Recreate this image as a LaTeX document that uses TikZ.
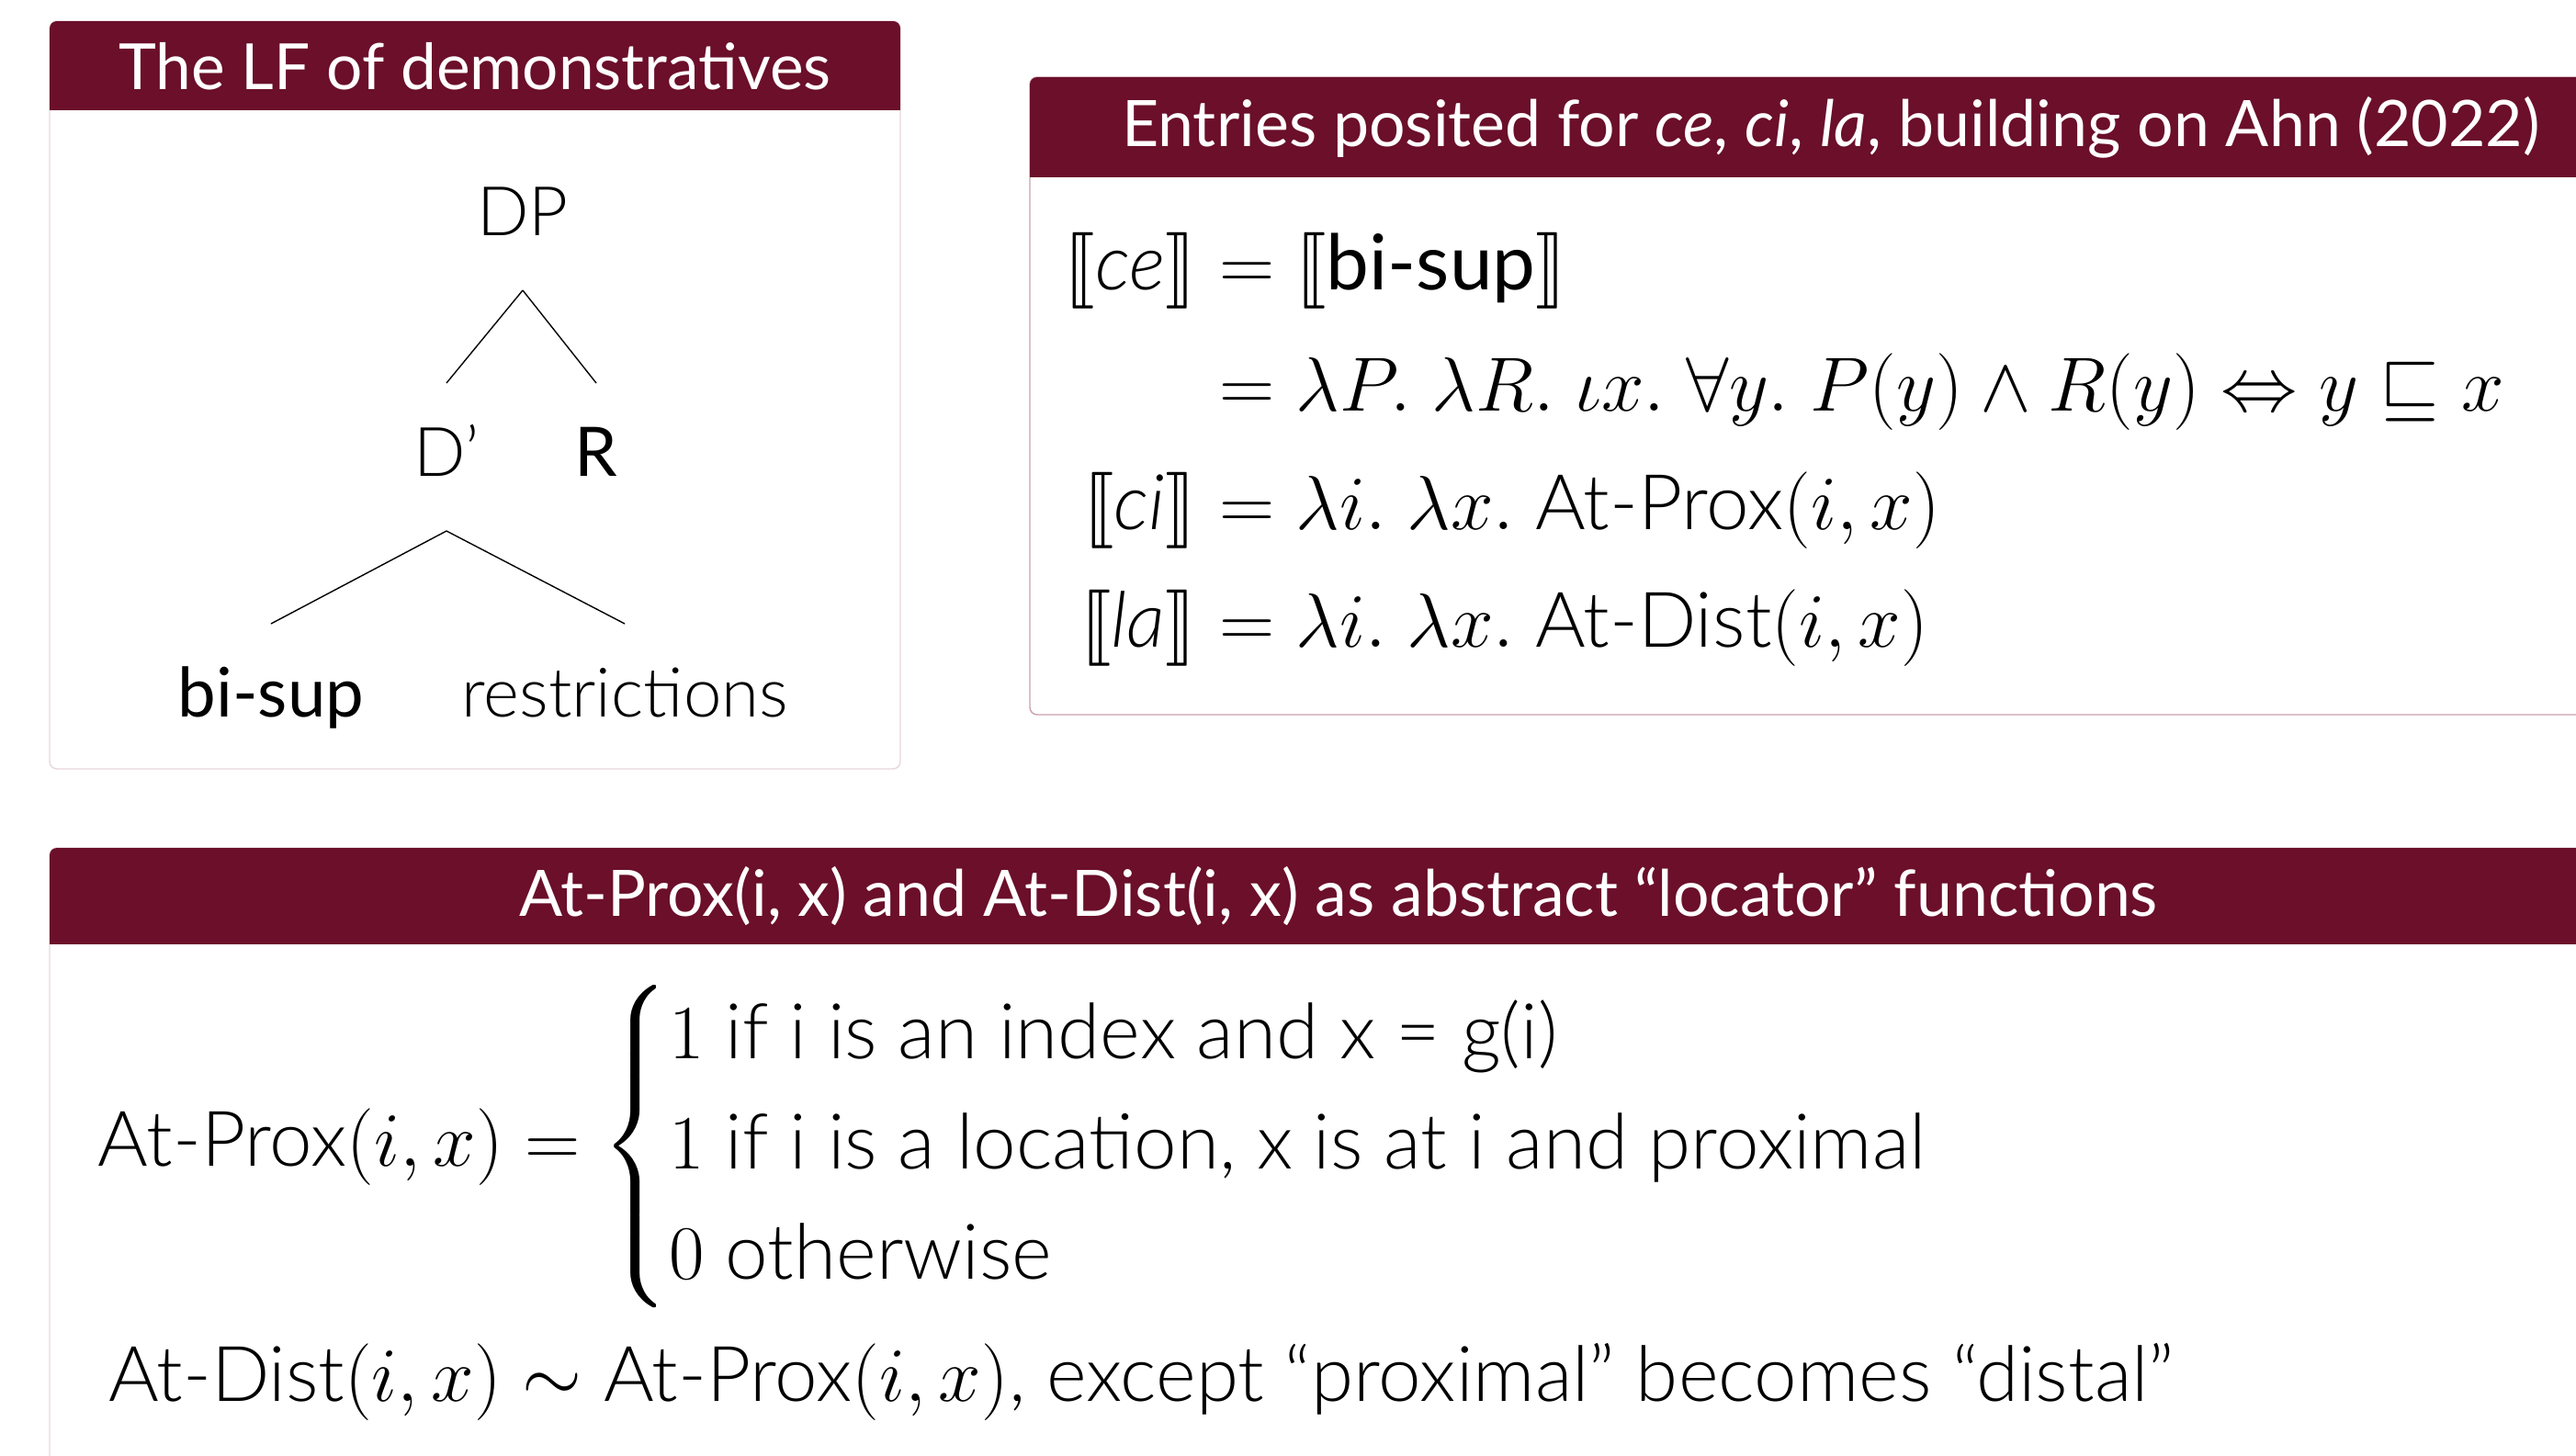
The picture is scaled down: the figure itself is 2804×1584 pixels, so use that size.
\documentclass[tikz,border=0pt]{standalone}
\usepackage{fix-cm}
\usepackage{amsmath,amssymb,stmaryrd}
\usepackage{fontspec}
\setmainfont{Lato Light}[ItalicFont={Lato Light Italic}, BoldFont={Lato}, BoldItalicFont={Lato Italic}]
\usetikzlibrary{calc}
\definecolor{maroon}{RGB}{107,15,42}
\definecolor{lightborder}{RGB}{232,214,220}
\definecolor{midborder}{RGB}{200,160,172}
\begin{document}
\begin{tikzpicture}[x=0.25pt,y=-0.25pt,
  every node/.style={inner sep=0pt, outer sep=0pt},
  titleA/.style={text=white, font=\fontsize{17.35}{21}\selectfont\bfseries, anchor=base},
  titleB/.style={text=white, font=\fontsize{17.45}{21}\selectfont\bfseries, anchor=base},
  treetext/.style={font=\fontsize{18.6}{22}\selectfont, anchor=base},
  treebold/.style={font=\fontsize{18.6}{22}\selectfont\bfseries, anchor=base},
  treeline/.style={line width=0.35pt},
  mathtext/.style={font=\fontsize{20.9}{25}\selectfont},
  bodytext/.style={font=\fontsize{20.9}{25}\selectfont, anchor=base west},
  boxframe/.style={fill=white, rounded corners=2pt, line width=0.35pt}]
\useasboundingbox (0,0) rectangle (2804,1584);
\clip (0,0) rectangle (2804,1584);
\fill[white] (0,0) rectangle (2804,1584);
% Box 1
\draw[boxframe, draw=lightborder] (54,23) rectangle (980,837);
\begin{scope}
\clip[rounded corners=2pt] (54,23) rectangle (980,837);
\fill[maroon] (54,23) rectangle (980,120);
\end{scope}
\node[titleA] (t1) at (517,98) {The LF of demonstratives};
\node[treetext] (DP) at (569,256) {DP};
\node[treetext] (Dp) at (486,518) {D'};
\node[treebold] (R) at (649,518) {R};
\node[treebold] (bisup) at (295,780) {bi-sup};
\node[treetext] (restr) at (680,780) {restrictions};
\draw[treeline] ($(DP.base)+(0,60)$) -- ($(Dp.base)+(0,-101)$);
\draw[treeline] ($(DP.base)+(0,60)$) -- ($(R.base)+(0,-101)$);
\draw[treeline] ($(Dp.base)+(0,60)$) -- ($(bisup.base)+(0,-101)$);
\draw[treeline] ($(Dp.base)+(0,60)$) -- ($(restr.base)+(0,-101)$);
% Box 2
\draw[boxframe, draw=midborder] (1121,84) rectangle (2864,778);
\begin{scope}
\clip[rounded corners=2pt] (1121,84) rectangle (2864,778);
\fill[maroon] (1121,84) rectangle (2864,193);
\end{scope}
\node[titleB] (t2) at (1993,160) {Entries posited for \textit{ce}, \textit{ci}, \textit{la}, building on Ahn (2022)};
\node[mathtext, anchor=base east] (ce) at (1302,315) {$\llbracket\text{\itshape ce}\rrbracket$};
\node[mathtext, anchor=base west] (ceR) at (1327,315) {$= \llbracket\textbf{bi-sup}\rrbracket$};
\node[mathtext, anchor=base west] (l2) at (1327,447) {$= \lambda P.\ \lambda R.\ \iota x.\ \forall y.\ P(y) \land R(y) \Leftrightarrow y \sqsubseteq x$};
\node[mathtext, anchor=base east] (ci) at (1302,576) {$\llbracket\text{\itshape ci}\rrbracket$};
\node[mathtext, anchor=base west] (ciR) at (1327,576) {$= \lambda i.\ \lambda x.\ \text{At-Prox}(i,x)$};
\node[mathtext, anchor=base east] (la) at (1302,704) {$\llbracket\text{\itshape la}\rrbracket$};
\node[mathtext, anchor=base west] (laR) at (1327,704) {$= \lambda i.\ \lambda x.\ \text{At-Dist}(i,x)$};
% Box 3
\draw[boxframe, draw=lightborder] (54,923) rectangle (2864,1660);
\begin{scope}
\clip[rounded corners=2pt] (54,923) rectangle (2864,1660);
\fill[maroon] (54,923) rectangle (2864,1028);
\end{scope}
\node[titleB] (t3) at (1457,997) {At-Prox(i, x) and At-Dist(i, x) as abstract “locator” functions};
\node[bodytext] (prox) at (107,1269) {$\text{At-Prox}(i,x) = \begin{cases} 1\text{ if i is an index and x = g(i)}\\ 1\text{ if i is a location, x is at i and proximal}\\ 0\text{ otherwise}\end{cases}$};
\node[bodytext] (dist) at (118,1525) {$\text{At-Dist}(i,x) \sim \text{At-Prox}(i,x)$, except “proximal” becomes “distal”};
\end{tikzpicture}
\end{document}
